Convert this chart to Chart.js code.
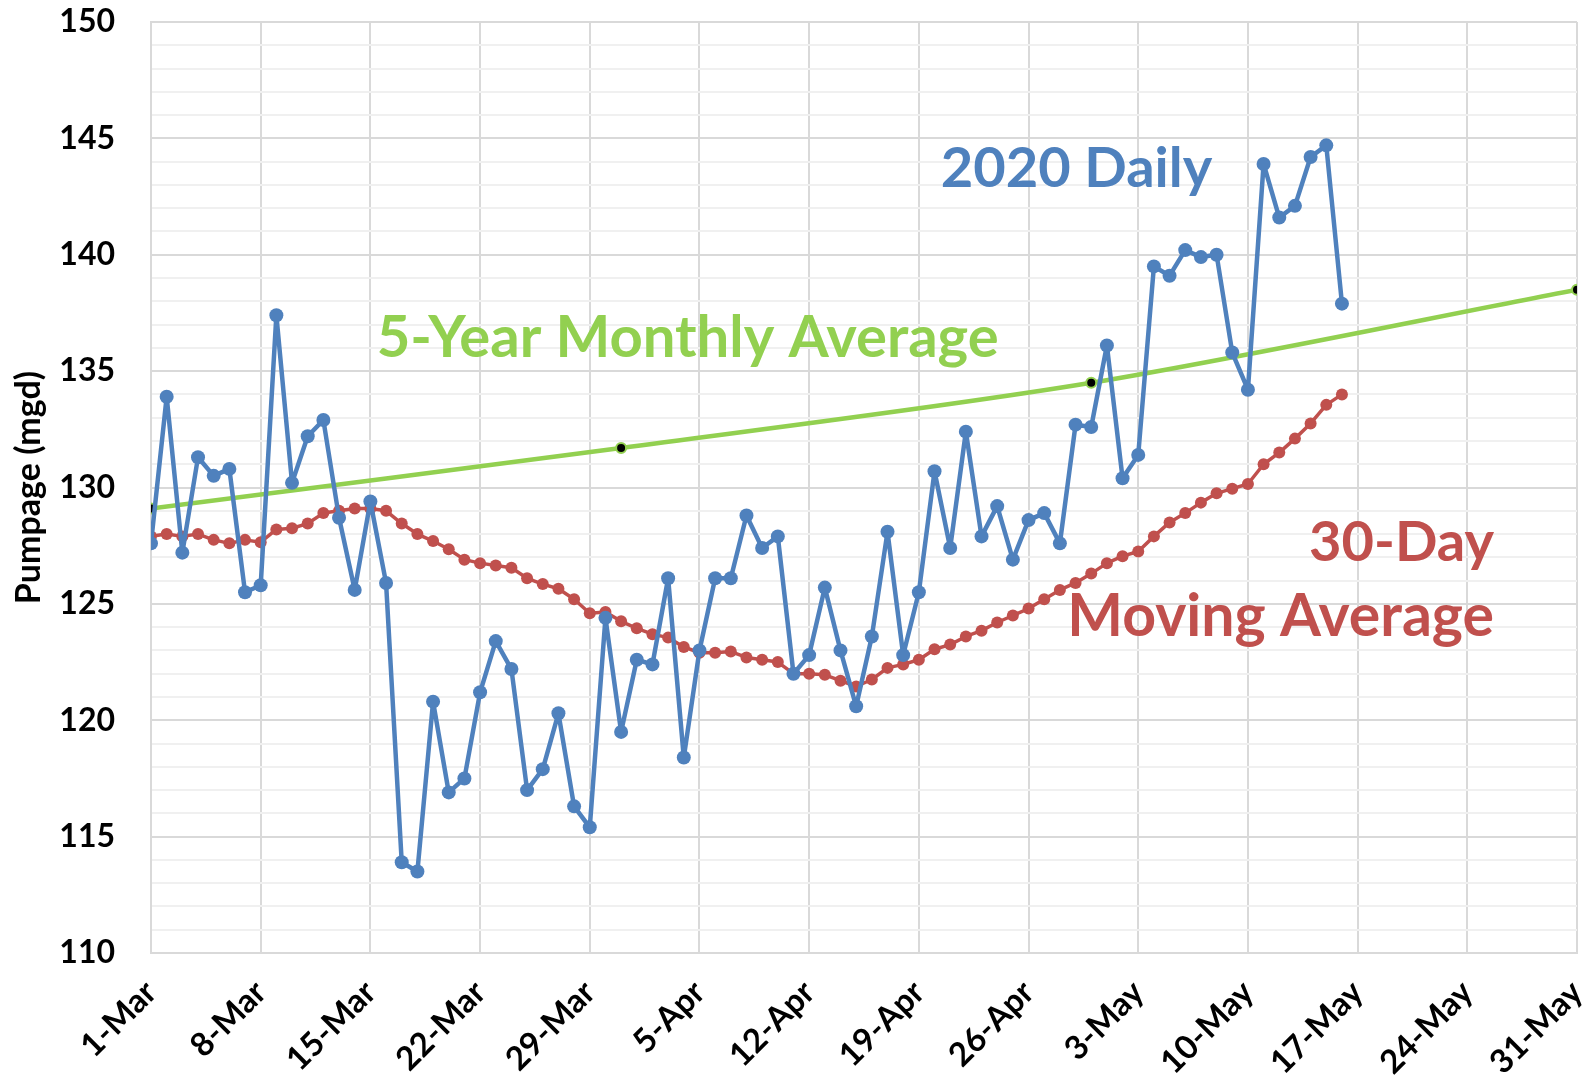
<!DOCTYPE html>
<html lang="en">
<head>
<meta charset="UTF-8">
<title>Pumpage - 2020 daily vs averages</title>
<script src="https://cdn.jsdelivr.net/npm/chart.js"></script>
<style>
    body {
        margin: 0;
        padding: 0;
        background: #fff;
    }
    canvas {
        display: block;
    }
</style>
</head>
<body>
<canvas id="pumpChart" width="1595" height="1086"></canvas>

<script>
    // x axis: day number counted from 1-Mar, a tick every 7 days
    const dateLabels = ['1-Mar', '8-Mar', '15-Mar', '22-Mar', '29-Mar', '5-Apr', '12-Apr',
                        '19-Apr', '26-Apr', '3-May', '10-May', '17-May', '24-May', '31-May'];

    // 2020 daily pumpage (mgd), 1-Mar .. 16-May
    const daily2020 = [
        127.6, 133.9, 127.2, 131.3, 130.5, 130.8, 125.5, 125.8, 137.4, 130.2,
        132.2, 132.9, 128.7, 125.6, 129.4, 125.9, 113.9, 113.5, 120.8, 116.9,
        117.5, 121.2, 123.4, 122.2, 117.0, 117.9, 120.3, 116.3, 115.4, 124.4,
        119.5, 122.6, 122.4, 126.1, 118.4, 123.0, 126.1, 126.1, 128.8, 127.4,
        127.9, 122.0, 122.8, 125.7, 123.0, 120.6, 123.6, 128.1, 122.8, 125.5,
        130.7, 127.4, 132.4, 127.9, 129.2, 126.9, 128.6, 128.9, 127.6, 132.7,
        132.6, 136.1, 130.4, 131.4, 139.5, 139.1, 140.2, 139.9, 140.0, 135.8,
        134.2, 143.9, 141.6, 142.1, 144.2, 144.7, 137.9
    ];

    // 30-day moving average, same days
    const movingAvg30 = [
        127.9, 128.0, 127.9, 128.0, 127.75, 127.6, 127.75, 127.65, 128.2, 128.25,
        128.45, 128.9, 129.0, 129.1, 129.1, 129.0, 128.45, 128.0, 127.7, 127.35,
        126.9, 126.75, 126.65, 126.55, 126.1, 125.85, 125.65, 125.2, 124.6, 124.65,
        124.25, 123.95, 123.7, 123.55, 123.15, 122.9, 122.9, 122.95, 122.7, 122.6,
        122.5, 122.0, 122.0, 121.95, 121.7, 121.45, 121.75, 122.25, 122.4, 122.6,
        123.05, 123.25, 123.6, 123.85, 124.2, 124.5, 124.8, 125.2, 125.6, 125.9,
        126.3, 126.75, 127.05, 127.25, 127.9, 128.5, 128.9, 129.35, 129.75, 129.95,
        130.15, 131.0, 131.5, 132.1, 132.75, 133.55, 134.0
    ];

    // 5-year monthly average
    const fiveYearDays = [0, 30, 60, 91];
    const fiveYearAvg = [129.1, 131.7, 134.5, 138.5];

    const BLUE = '#4F81BD';
    const RED = '#C0504D';
    const GREEN = '#92D050';

    // text labels written on the plot, anchored in data units (day, mgd)
    const notes = [
        { text: '2020 Daily', day: 50.4, val: 142.9, color: BLUE, align: 'left', size: 56 },
        { text: '5-Year Monthly Average', day: 14.4, val: 135.6, color: GREEN, align: 'left', size: 58 },
        { text: '30-Day', day: 85.7, val: 126.85, color: RED, align: 'right', size: 56 },
        { text: 'Moving Average', day: 85.7, val: 123.6, color: RED, align: 'right', size: 59 }
    ];

    const toXY = (vals, days) => vals.map((v, i) => ({ x: days ? days[i] : i, y: v }));

    const notesPlugin = {
        id: 'notes',
        afterDatasetsDraw(chart) {
            const { ctx, scales } = chart;
            ctx.save();
            ctx.textBaseline = 'alphabetic';
            notes.forEach(n => {
                ctx.font = 'bold ' + n.size + 'px Lato';
                ctx.fillStyle = n.color;
                ctx.textAlign = n.align;
                ctx.fillText(n.text, scales.x.getPixelForValue(n.day), scales.y.getPixelForValue(n.val));
            });
            ctx.restore();
        }
    };

    Chart.defaults.font.family = 'Lato';
    Chart.defaults.color = '#000';

    new Chart(document.getElementById('pumpChart'), {
        type: 'line',
        data: {
            datasets: [
                {
                    label: '2020 Daily',
                    data: toXY(daily2020),
                    borderColor: BLUE,
                    backgroundColor: BLUE,
                    borderWidth: 4.5,
                    borderJoinStyle: 'round',
                    pointRadius: 7,
                    pointBorderWidth: 0,
                    tension: 0
                },
                {
                    label: '30-Day Moving Average',
                    data: toXY(movingAvg30),
                    borderColor: RED,
                    backgroundColor: RED,
                    borderWidth: 3.5,
                    borderJoinStyle: 'round',
                    pointRadius: 6,
                    pointBorderWidth: 0,
                    tension: 0
                },
                {
                    label: '5-Year Monthly Average',
                    data: toXY(fiveYearAvg, fiveYearDays),
                    borderColor: GREEN,
                    backgroundColor: '#000',
                    borderWidth: 4.5,
                    pointRadius: 5,
                    pointBorderColor: GREEN,
                    pointBorderWidth: 2,
                    tension: 0.3
                }
            ]
        },
        options: {
            responsive: false,
            devicePixelRatio: 1,
            animation: false,
            layout: { padding: { top: 22, right: 18, left: 0, bottom: 0 } },
            plugins: {
                legend: { display: false },
                tooltip: { enabled: false }
            },
            scales: {
                x: {
                    type: 'linear',
                    min: 0,
                    max: 91,
                    ticks: {
                        stepSize: 7,
                        autoSkip: false,
                        minRotation: 45,
                        maxRotation: 45,
                        padding: 20,
                        font: { size: 33, weight: 'bold' },
                        callback: v => dateLabels[Math.round(v / 7)]
                    },
                    grid: { drawTicks: false, color: '#d9d9d9', lineWidth: 2 },
                    border: { color: '#d9d9d9', width: 2 },
                    afterFit: s => { s.height = 133; s.paddingRight = 0; }
                },
                y: {
                    min: 110,
                    max: 150,
                    ticks: {
                        stepSize: 1,
                        autoSkip: false,
                        padding: 36,
                        font: { size: 32, weight: 'bold' },
                        callback: v => (v % 5 === 0 ? v : '')
                    },
                    grid: {
                        drawTicks: false,
                        lineWidth: 2,
                        color: c => (c.tick && c.tick.value % 5 === 0 ? '#d9d9d9' : '#f0f0f0')
                    },
                    border: { color: '#d9d9d9', width: 2 },
                    title: {
                        display: true,
                        text: 'Pumpage (mgd)',
                        font: { size: 34, weight: 'bold' },
                        padding: { top: 9, bottom: 0 }
                    },
                    afterFit: s => { s.width = 151; s.paddingTop = 0; s.paddingBottom = 0; }
                }
            }
        },
        plugins: [notesPlugin]
    });
</script>
</body>
</html>
